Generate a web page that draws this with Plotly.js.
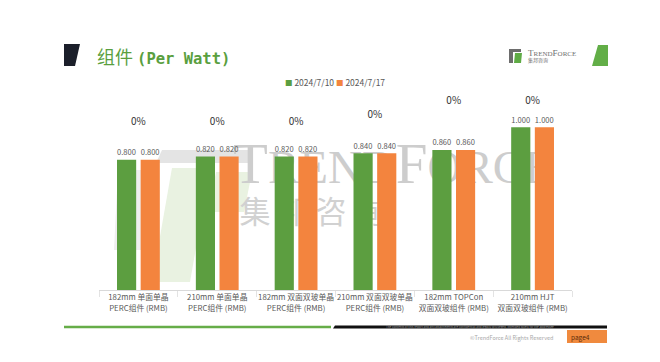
<!DOCTYPE html>
<html><head><meta charset="utf-8">
<script src="https://cdn.plot.ly/plotly-3.0.1.min.js"></script>
<style>html,body{margin:0;padding:0;background:#fff}#chart{width:660px;height:362px}</style>
</head><body><div id="chart"></div>
<script>
// ---- data ----
const categories = [
  "182mm 单面单晶<br>PERC组件 (RMB)",
  "210mm 单面单晶<br>PERC组件 (RMB)",
  "182mm 双面双玻单晶<br>PERC组件 (RMB)",
  "210mm 双面双玻单晶<br>PERC组件 (RMB)",
  "182mm TOPCon<br>双面双玻组件 (RMB)",
  "210mm HJT<br>双面双玻组件 (RMB)"
];
const seriesNames = ["2024/7/10", "2024/7/17"];
const pricesWeek1 = [0.800, 0.820, 0.820, 0.840, 0.860, 1.000];
const pricesWeek2 = [0.800, 0.820, 0.820, 0.840, 0.860, 1.000];
const changeLabelPos = [1.031, 1.031, 1.031, 1.071, 1.157, 1.157];
const changeText = pricesWeek1.map((v, i) => Math.round((pricesWeek2[i] - v) / v * 100) + "%");

// ---- geometry helpers (plot area in px) ----
const L = 99, R = 572, T = 76, B = 290;
const px = x => (x - L) / (R - L);
const py = y => (B - y) / (B - T);
const pathPx = pts => pts.map((p, i) => (i ? "L" : "M") + px(p[0]).toFixed(4) + "," + py(p[1]).toFixed(4)).join(" ") + " Z";

const GREEN = "#5C9E40", ORANGE = "#F3843E";
const FONT = "Noto Sans CJK SC, Noto Sans, sans-serif";

const traces = [
  // watermark (base subplot, drawn beneath bars)
  {type: "scatter", mode: "text", x: [px(393)], y: [py(169)], xaxis: "x", yaxis: "y",
   text: ["T<span style='font-size:47px'>REND</span>F<span style='font-size:47px'>ORCE</span>"],
   textfont: {family: "Liberation Serif, serif", size: 57, color: "#cdcdcd"},
   hoverinfo: "skip", showlegend: false},
  {type: "scatter", mode: "text", x: [px(312)], y: [py(215)], xaxis: "x", yaxis: "y",
   text: ["集 邦 咨 询"],
   textfont: {family: FONT, size: 31, color: "#d1d1d1"},
   hoverinfo: "skip", showlegend: false},
  // bars
  {type: "bar", name: seriesNames[0], x: categories, y: pricesWeek1, xaxis: "x2", yaxis: "y2",
   marker: {color: GREEN}, texttemplate: "%{y:.3f}", textposition: "outside",
   textfont: {family: FONT, size: 8.5, color: "#595959"}, cliponaxis: false, showlegend: false},
  {type: "bar", name: seriesNames[1], x: categories, y: pricesWeek2, xaxis: "x2", yaxis: "y2",
   marker: {color: ORANGE}, texttemplate: "%{y:.3f}", textposition: "outside",
   textfont: {family: FONT, size: 8.5, color: "#595959"}, cliponaxis: false, showlegend: false},
  // change labels
  {type: "scatter", mode: "text", x: categories, y: changeLabelPos, text: changeText, xaxis: "x2", yaxis: "y2",
   textfont: {family: FONT, size: 10, color: "#333333"}, cliponaxis: false, hoverinfo: "skip", showlegend: false}
];

const shapes = [
  // watermark logo (faint)
  {type: "path", layer: "below", xref: "paper", yref: "paper", path: pathPx([[162,150],[252,150],[248,163],[156,163]]), fillcolor: "#e4e4e4", line: {width: 0}},
  {type: "path", layer: "below", xref: "paper", yref: "paper", path: pathPx([[172,168],[210,168],[190,282],[152,282]]), fillcolor: "#e9f2e1", line: {width: 0}},
  {type: "path", layer: "below", xref: "paper", yref: "paper", path: pathPx([[216,172],[252,172],[244,212],[208,212]]), fillcolor: "#e9f2e1", line: {width: 0}},
  {type: "path", layer: "below", xref: "paper", yref: "paper", path: pathPx([[118,170],[146,170],[142,250],[114,250]]), fillcolor: "#eeeeee", line: {width: 0}},
  // title decorations
  {type: "path", xref: "paper", yref: "paper", path: pathPx([[64,44],[80,44],[75,66],[64,66]]), fillcolor: "#1b1f2a", line: {width: 0}},
  {type: "path", xref: "paper", yref: "paper", path: pathPx([[598,45],[608,45],[608,66],[592,66]]), fillcolor: "#62AE47", line: {width: 0}},
  // TrendForce logo icon
  {type: "rect", xref: "paper", yref: "paper", x0: px(509), x1: px(521), y0: py(52), y1: py(49), fillcolor: "#6d6d6d", line: {width: 0}},
  {type: "rect", xref: "paper", yref: "paper", x0: px(509), x1: px(513), y0: py(63), y1: py(52), fillcolor: "#6d6d6d", line: {width: 0}},
  {type: "path", xref: "paper", yref: "paper", path: pathPx([[515,53],[522,53],[521,63],[514,63]]), fillcolor: "#5fab45", line: {width: 0}},
  // footer lines
  {type: "line", xref: "paper", yref: "paper", x0: px(64), x1: px(331), y0: py(327), y1: py(327), line: {color: "#66ad48", width: 2.5}},
  {type: "path", xref: "paper", yref: "paper", path: pathPx([[335,325.5],[607,325.5],[607,328.5],[333,328.5]]), fillcolor: "#111111", line: {width: 0}},
  // page box
  {type: "rect", xref: "paper", yref: "paper", x0: px(567), x1: px(607), y0: py(343), y1: py(330), fillcolor: "#F08A3E", line: {width: 0}}
];

const annotations = [
  {xref: "paper", yref: "paper", x: px(335), y: py(82), xanchor: "center", yanchor: "middle", showarrow: false,
   text: "<span style='color:" + GREEN + ";font-size:7.5px'>■</span> " + seriesNames[0] + " <span style='color:" + ORANGE + ";font-size:7.5px'>■</span> " + seriesNames[1],
   font: {family: FONT, size: 8.5, color: "#595959"}},
  {xref: "paper", yref: "paper", x: px(526), y: py(53), xanchor: "left", yanchor: "middle", showarrow: false,
   text: "T<span style='font-size:7px'>REND</span>F<span style='font-size:7px'>ORCE</span>",
   font: {family: "Liberation Serif, serif", size: 9, color: "#707070"}},
  {xref: "paper", yref: "paper", x: px(526), y: py(60.5), xanchor: "left", yanchor: "middle", showarrow: false,
   text: "集邦咨询", font: {family: FONT, size: 5, color: "#707070"}},
  {xref: "paper", yref: "paper", x: px(470), y: py(327), xanchor: "center", yanchor: "middle", showarrow: false,
   text: "The contents of this report and any attachments are confidential and legally privileged, intended solely for the addressee",
   font: {family: FONT, size: 3, color: "#9a9a9a"}},
  {xref: "paper", yref: "paper", x: px(555), y: py(337.5), xanchor: "right", yanchor: "middle", showarrow: false,
   text: "©TrendForce All Rights Reserved", font: {family: FONT, size: 5.5, color: "#a8a8a8"}},
  {xref: "paper", yref: "paper", x: px(569), y: py(336.5), xanchor: "left", yanchor: "middle", showarrow: false,
   text: "page4", font: {family: FONT, size: 6.5, color: "#5a2a0a"}}
];

const layout = {
  width: 660, height: 362,
  margin: {l: L, r: 660 - R, t: T, b: 362 - B, pad: 0},
  paper_bgcolor: "#ffffff", plot_bgcolor: "rgba(0,0,0,0)",
  title: {
    text: "组件 <span style='font-family:DejaVu Sans Mono;font-size:15.5px;font-weight:bold'>(Per Watt)</span>",
    font: {family: FONT, size: 18, color: "#5a9f3f"},
    x: 97 / 660, xanchor: "left", xref: "container",
    y: 1 - 58 / 362, yanchor: "middle", yref: "container"
  },
  xaxis: {range: [0, 1], visible: false, fixedrange: true},
  yaxis: {range: [0, 1], visible: false, fixedrange: true},
  xaxis2: {type: "category", overlaying: "x", anchor: "y2", side: "bottom",
           showline: true, linecolor: "#d9d9d9", linewidth: 1,
           ticks: "outside", tickson: "boundaries", ticklen: 6, tickcolor: "#e3e3e3",
           tickfont: {family: FONT, size: 7.8, color: "#595959"}, tickangle: 0, automargin: false},
  yaxis2: {overlaying: "y", anchor: "x2", range: [0, (B - T) / 162.7], visible: false, showgrid: false, zeroline: false},
  barmode: "group", bargap: 0.40, bargroupgap: 0.19,
  showlegend: false,
  shapes: shapes, annotations: annotations
};

Plotly.newPlot("chart", traces, layout, {displayModeBar: false, staticPlot: true});
</script></body></html>
